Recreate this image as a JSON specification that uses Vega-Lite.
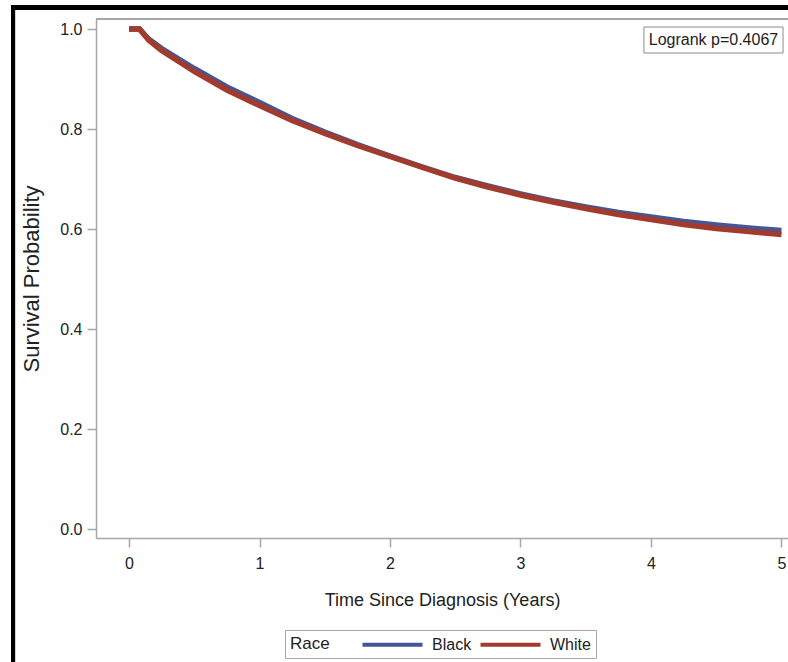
{
  "$schema": "https://vega.github.io/schema/vega-lite/v6.json",
  "width": 692,
  "height": 519,
  "autosize": {"type": "none"},
  "padding": {"left": 96, "top": 19, "right": 0, "bottom": 124},
  "background": "white",
  "config": {
    "view": {"stroke": null},
    "font": "Liberation Sans",
    "axis": {
      "domainColor": "#a6a6a6",
      "domainWidth": 1.5,
      "tickColor": "#a6a6a6",
      "tickWidth": 1.5,
      "tickSize": 9,
      "grid": false,
      "labelColor": "#222222",
      "titleColor": "#222222",
      "titleFontWeight": "normal",
      "labelFont": "Liberation Sans",
      "titleFont": "Liberation Sans"
    },
    "legend": {
      "titleFontWeight": "normal",
      "labelFont": "Liberation Sans",
      "titleFont": "Liberation Sans"
    }
  },
  "datasets": {
    "km": [
      {"race": "Black", "t": 0, "s": 1.0},
      {"race": "Black", "t": 0.08, "s": 1.0},
      {"race": "Black", "t": 0.15, "s": 0.98},
      {"race": "Black", "t": 0.25, "s": 0.961},
      {"race": "Black", "t": 0.5, "s": 0.921},
      {"race": "Black", "t": 0.75, "s": 0.884},
      {"race": "Black", "t": 1.0, "s": 0.853},
      {"race": "Black", "t": 1.25, "s": 0.821},
      {"race": "Black", "t": 1.5, "s": 0.794},
      {"race": "Black", "t": 1.75, "s": 0.769},
      {"race": "Black", "t": 2.0, "s": 0.746},
      {"race": "Black", "t": 2.25, "s": 0.724},
      {"race": "Black", "t": 2.5, "s": 0.703},
      {"race": "Black", "t": 2.75, "s": 0.686},
      {"race": "Black", "t": 3.0, "s": 0.67},
      {"race": "Black", "t": 3.25, "s": 0.656},
      {"race": "Black", "t": 3.5, "s": 0.644},
      {"race": "Black", "t": 3.75, "s": 0.633},
      {"race": "Black", "t": 4.0, "s": 0.624},
      {"race": "Black", "t": 4.25, "s": 0.615},
      {"race": "Black", "t": 4.5, "s": 0.608},
      {"race": "Black", "t": 4.75, "s": 0.602},
      {"race": "Black", "t": 5.0, "s": 0.597},
      {"race": "White", "t": 0, "s": 1.0},
      {"race": "White", "t": 0.08, "s": 1.0},
      {"race": "White", "t": 0.15, "s": 0.978},
      {"race": "White", "t": 0.25, "s": 0.957},
      {"race": "White", "t": 0.5, "s": 0.915},
      {"race": "White", "t": 0.75, "s": 0.878},
      {"race": "White", "t": 1.0, "s": 0.847},
      {"race": "White", "t": 1.25, "s": 0.817},
      {"race": "White", "t": 1.5, "s": 0.791},
      {"race": "White", "t": 1.75, "s": 0.767},
      {"race": "White", "t": 2.0, "s": 0.745},
      {"race": "White", "t": 2.25, "s": 0.723},
      {"race": "White", "t": 2.5, "s": 0.702},
      {"race": "White", "t": 2.75, "s": 0.684},
      {"race": "White", "t": 3.0, "s": 0.668},
      {"race": "White", "t": 3.25, "s": 0.654},
      {"race": "White", "t": 3.5, "s": 0.641},
      {"race": "White", "t": 3.75, "s": 0.629},
      {"race": "White", "t": 4.0, "s": 0.619},
      {"race": "White", "t": 4.25, "s": 0.609},
      {"race": "White", "t": 4.5, "s": 0.601},
      {"race": "White", "t": 4.75, "s": 0.595},
      {"race": "White", "t": 5.0, "s": 0.589}
    ]
  },
  "data": {"name": "km"},
  "layer": [
    {
      "mark": {"type": "line", "strokeWidth": 5.5, "interpolate": "linear"},
      "encoding": {
        "x": {
          "field": "t", "type": "quantitative",
          "scale": {"domain": [-0.253, 5.05], "nice": false, "zero": false},
          "axis": {
            "values": [0, 1, 2, 3, 4, 5], "format": "d",
            "title": "Time Since Diagnosis (Years)",
            "labelFontSize": 16, "labelPadding": 8,
            "titleFontSize": 18, "titlePadding": 20
          }
        },
        "y": {
          "field": "s", "type": "quantitative",
          "scale": {"domain": [-0.018, 1.02], "nice": false, "zero": false},
          "axis": {
            "values": [0, 0.2, 0.4, 0.6, 0.8, 1.0], "format": ".1f",
            "title": "Survival Probability",
            "labelFontSize": 16, "labelPadding": 5,
            "titleFontSize": 22, "titlePadding": 16
          }
        },
        "color": {
          "field": "race", "type": "nominal",
          "scale": {"domain": ["Black", "White"], "range": ["#445694", "#A23A2E"]},
          "legend": {
            "title": "Race",
            "orient": "none",
            "legendX": 189,
            "legendY": 611,
            "direction": "horizontal",
            "titleOrient": "left",
            "titleAnchor": "middle",
            "titleBaseline": "middle",
            "titleFontSize": 17,
            "titlePadding": 53,
            "labelFontSize": 16,
            "labelColor": "#222222",
            "titleColor": "#222222",
            "labelOffset": 30,
            "columnPadding": 0,
            "symbolType": "M-4,0H4",
            "symbolStrokeWidth": 4,
            "symbolSize": 225,
            "strokeColor": "#a6a6a6",
            "padding": 5
          }
        },
        "order": {"field": "race", "sort": "ascending"}
      }
    },
    {
      "mark": {"type": "rule", "color": "#a6a6a6", "strokeWidth": 1.5},
      "encoding": {"y": {"datum": 1.02, "type": "quantitative"}}
    },
    {
      "data": {"values": [{"label": "Logrank p=0.4067"}]},
      "mark": {"type": "rect", "fill": "white", "stroke": "#8c8c8c", "strokeWidth": 1},
      "encoding": {
        "x": {"datum": 3.946, "type": "quantitative"},
        "x2": {"datum": 5.012},
        "y": {"datum": 1.004, "type": "quantitative"},
        "y2": {"datum": 0.952}
      }
    },
    {
      "data": {"values": [{"label": "Logrank p=0.4067"}]},
      "mark": {"type": "text", "align": "right", "baseline": "middle", "font": "Liberation Sans", "fontSize": 16, "color": "#222222"},
      "encoding": {
        "x": {"datum": 4.975, "type": "quantitative"},
        "y": {"datum": 0.978, "type": "quantitative"},
        "text": {"field": "label"}
      }
    },
    {
      "mark": {"type": "rule", "color": "black", "strokeWidth": 4},
      "encoding": {
        "x": {"datum": -0.889, "type": "quantitative"},
        "y": {"datum": 1.047, "type": "quantitative"},
        "y2": {"datum": -0.27}
      }
    },
    {
      "mark": {"type": "rule", "color": "black", "strokeWidth": 4},
      "encoding": {
        "y": {"datum": 1.043, "type": "quantitative"},
        "x": {"datum": -0.904, "type": "quantitative"},
        "x2": {"datum": 5.06}
      }
    }
  ]
}
